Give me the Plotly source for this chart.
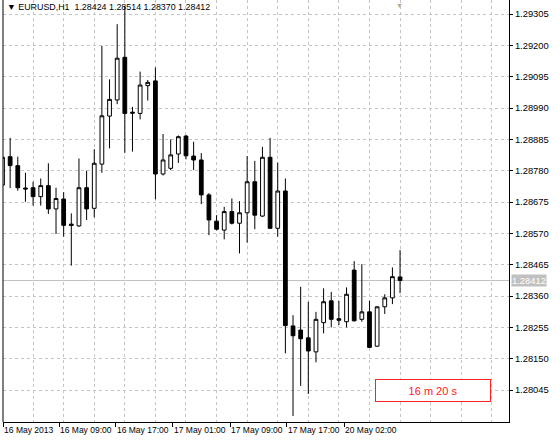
# EURUSD H1 candlestick chart (MetaTrader style)
import plotly.graph_objects as go

# Data
opens = [1.28732, 1.28827, 1.28797, 1.28722, 1.28723, 1.28693, 1.28730, 1.28652, 1.28685, 1.28601,
         1.28595, 1.28723, 1.28654, 1.28802, 1.28963, 1.29017, 1.29160, 1.28976, 1.28972, 1.29065,
         1.29081, 1.28769, 1.28788, 1.28836, 1.28896, 1.28829, 1.28816, 1.28699, 1.28611, 1.28581,
         1.28643, 1.28604, 1.28639, 1.28743, 1.28628, 1.28825, 1.28587, 1.28712, 1.28260, 1.28246,
         1.28220, 1.28173, 1.28271, 1.28344, 1.28284, 1.28274, 1.28447, 1.28282, 1.28307, 1.28192,
         1.28324, 1.28354, 1.28424]
highs = [1.28836, 1.28890, 1.28827, 1.28773, 1.28743, 1.28754, 1.28805, 1.28723, 1.28708, 1.28637,
         1.28821, 1.28780, 1.28852, 1.29198, 1.29086, 1.29271, 1.29332, 1.28994, 1.29112, 1.29084,
         1.29126, 1.28903, 1.28885, 1.28898, 1.28900, 1.28877, 1.28839, 1.28705, 1.28631, 1.28659,
         1.28687, 1.28678, 1.28829, 1.28813, 1.28860, 1.28890, 1.28807, 1.28754, 1.28296, 1.28391,
         1.28341, 1.28307, 1.28386, 1.28374, 1.28344, 1.28389, 1.28477, 1.28467, 1.28344, 1.28326,
         1.28366, 1.28456, 1.28514]
lows = [1.28722, 1.28722, 1.28713, 1.28676, 1.28663, 1.28663, 1.28635, 1.28568, 1.28559, 1.28462,
        1.28592, 1.28615, 1.28624, 1.28773, 1.28855, 1.29003, 1.28840, 1.28844, 1.28952, 1.29015,
        1.28684, 1.28764, 1.28782, 1.28806, 1.28818, 1.28782, 1.28668, 1.28564, 1.28580, 1.28550,
        1.28600, 1.28503, 1.28539, 1.28584, 1.28625, 1.28585, 1.28559, 1.28168, 1.27958, 1.28059,
        1.28032, 1.28138, 1.28235, 1.28255, 1.28263, 1.28255, 1.28275, 1.28274, 1.28186, 1.28190,
        1.28300, 1.28333, 1.28370]
closes = [1.28825, 1.28797, 1.28723, 1.28719, 1.28693, 1.28730, 1.28652, 1.28687, 1.28597, 1.28597,
          1.28723, 1.28652, 1.28805, 1.28964, 1.29019, 1.29157, 1.28972, 1.28973, 1.29067, 1.29076,
          1.28769, 1.28816, 1.28833, 1.28894, 1.28830, 1.28816, 1.28699, 1.28615, 1.28584, 1.28643,
          1.28604, 1.28639, 1.28743, 1.28631, 1.28825, 1.28587, 1.28712, 1.28261, 1.28227, 1.28217,
          1.28176, 1.28282, 1.28341, 1.28282, 1.28279, 1.28366, 1.28277, 1.28307, 1.28188, 1.28324,
          1.28354, 1.28425, 1.28412]

y_ticks = [1.28045, 1.28150, 1.28255, 1.28360, 1.28465, 1.28570, 1.28675,
           1.28780, 1.28885, 1.28990, 1.29095, 1.29200, 1.29305]

# time labels sit between bars, so keep them as bar-index positions
x_tick_pos = [0.08, 7.39, 14.84, 22.30, 29.76, 37.21, 44.67]
x_tick_text = ["16 May 2013", "16 May 09:00", "16 May 17:00", "17 May 01:00",
               "17 May 09:00", "17 May 17:00", "20 May 02:00"]

symbol = "EURUSD,H1"
timer_text = "16 m 20 s"

bars = list(range(len(opens)))
FONT = "Liberation Sans"
GRID = "#c4c4c4"

fig = go.Figure(go.Candlestick(
    x=bars, open=opens, high=highs, low=lows, close=closes,
    increasing=dict(fillcolor="white", line=dict(color="black", width=1)),
    decreasing=dict(fillcolor="black", line=dict(color="black", width=1)),
    showlegend=False,
))

last_o, last_h, last_l, last_c = opens[-1], highs[-1], lows[-1], closes[-1]

fig.update_layout(
    width=560, height=441,
    margin=dict(l=3, r=51, t=0, b=19),
    paper_bgcolor="white", plot_bgcolor="white",
    font=dict(family=FONT, size=9, color="black"),
    xaxis=dict(
        range=[0.065, 66.25], rangeslider=dict(visible=False),
        tickvals=x_tick_pos, ticktext=x_tick_text, tickangle=0,
        ticks="outside", ticklen=4, tickcolor="black",
        ticklabelposition="outside right",
        tickfont=dict(size=8.5),
        showgrid=False, zeroline=False,
        showline=True, linecolor="black", linewidth=1,
        minor=dict(tick0=0, dtick=4, showgrid=True, gridcolor=GRID,
                   griddash="3px,3px", gridwidth=1, ticks=""),
        automargin=False,
    ),
    yaxis=dict(
        range=[1.27938, 1.29352], side="right",
        tickvals=y_ticks, tickformat=".5f",
        ticks="outside", ticklen=3, tickcolor="black",
        tickfont=dict(size=9.4),
        showgrid=True, gridcolor=GRID, griddash="3px,3px", gridwidth=1,
        zeroline=False, showline=True, linecolor="black", linewidth=1,
        automargin=False,
    ),
)

# left border and current bid line
fig.add_shape(type="line", xref="paper", yref="paper", x0=0, x1=0, y0=0, y1=1,
              line=dict(color="black", width=1))
fig.add_shape(type="line", xref="paper", x0=0, x1=1, y0=last_c, y1=last_c,
              line=dict(color="#c0c0c0", width=1), layer="below")

# price label on the right scale
fig.add_annotation(xref="paper", x=1.0, xanchor="left", xshift=2, y=last_c, yanchor="middle",
                   text=f"{last_c:.5f}", showarrow=False, bgcolor="#c0c0c0",
                   font=dict(color="white", size=9.4), borderpad=0)

# header
fig.add_annotation(xref="paper", yref="paper", x=0.004, y=1, xanchor="left", yanchor="top",
                   text=f"▼ {symbol}  {last_o:.5f} {last_h:.5f} {last_l:.5f} {last_c:.5f}",
                   showarrow=False, font=dict(size=8.9))

# chart shift marker
fig.add_annotation(xref="paper", yref="paper", x=0.784, y=1, xanchor="center", yanchor="top",
                   text="▼", showarrow=False, font=dict(size=7, color="#a8a8a8"))

# bar timer box
fig.add_annotation(xref="paper", yref="paper", x=0.849, y=0.0758, xanchor="center", yanchor="middle",
                   text=timer_text, showarrow=False, width=112, height=19,
                   bordercolor="#ff2020", borderwidth=1, borderpad=1, bgcolor="white",
                   font=dict(size=11, color="#ff2020"))

# page body has a default margin; drop it so the figure sits at the window corner
fig.write_html("out.html", config={"displayModeBar": False},
               post_script="document.body.style.margin='0px';")
